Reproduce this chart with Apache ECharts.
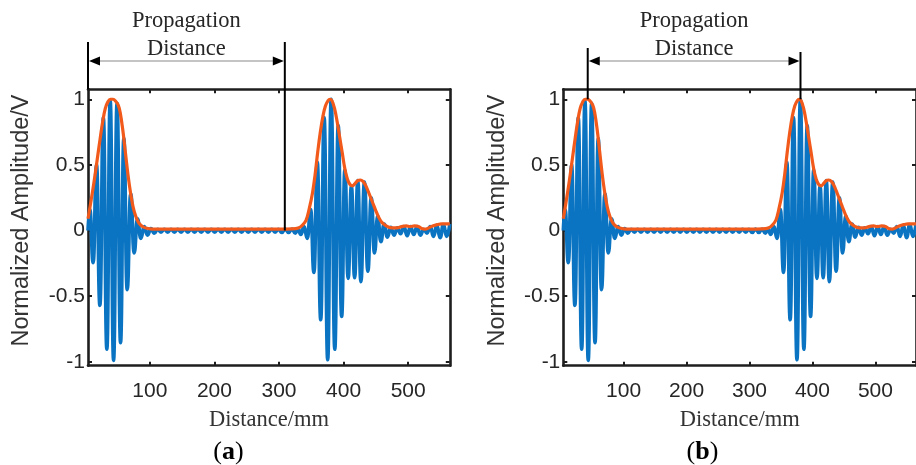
<!DOCTYPE html>
<html><head><meta charset="utf-8">
<script src="https://cdn.jsdelivr.net/npm/echarts@6/dist/echarts.min.js"></script>
<style>html,body{margin:0;padding:0;background:#fff}#c{width:916px;height:465px}</style>
</head><body><div id="c"></div>
<script>
// ---- data ----
// blue signal: positions (mm) of successive crests/troughs and their amplitudes
const distX = [4.2, 7, 12.2, 17.4, 22.6, 28.0, 33.4, 38.6, 43.8, 49.2, 54.6, 59.7, 64.9, 70.3, 75.7, 80.8, 86.0, 91.2, 96.4, 101.6, 106.8,
  112.0, 117.2, 122.4, 127.6, 132.8, 138.0, 143.2, 148.4, 153.6, 158.8, 164.0, 169.2, 174.4, 179.6, 184.8, 190.0, 195.2, 200.4, 205.6, 210.8,
  216.0, 221.2, 226.4, 231.6, 236.8, 242.0, 247.2, 252.4, 257.6, 262.8, 268.0, 273.2, 278.4, 283.6, 288.8, 294.0, 299.2,
  304.4, 309.6, 314.8, 320.0, 325.2, 329.5, 333.8,
  338.8, 343.8, 349.0, 354.1, 359.3, 364.6, 369.9, 375.4, 380.8, 386.4, 391.7, 397.0, 402.0, 407.1, 412.1, 417.1, 422.0, 426.8, 432.3, 437.6,
  442.8, 447.9, 452.8, 457.7, 462.8, 467.9, 473.0, 478.1, 483.2, 488.3, 493.4, 498.5, 503.6, 508.7, 513.8, 518.9, 524.0, 529.1, 534.2, 539.3,
  544.4, 549.5, 554.6, 559.7, 564.5];
const amp = [0.0, 0.16, -0.245, 0.50, -0.57, 0.86, -0.905, 0.99, -0.99, 0.97, -0.855, 0.70, -0.45, 0.28, -0.17, 0.09, -0.06, 0.03, -0.035, 0.015, -0.02,
  0.01, -0.012, 0.01, -0.012, 0.01, -0.012, 0.01, -0.012, 0.01, -0.012, 0.01, -0.012, 0.01, -0.012, 0.01, -0.012, 0.01, -0.012, 0.01, -0.012,
  0.01, -0.012, 0.01, -0.012, 0.01, -0.012, 0.01, -0.012, 0.01, -0.012, 0.01, -0.012, 0.01, -0.012, 0.01, -0.012, 0.01,
  -0.015, 0.012, -0.015, 0.012, -0.02, 0.015, -0.03,
  0.03, -0.06, 0.16, -0.32, 0.52, -0.68, 0.86, -0.985, 1.0, -0.905, 0.80, -0.655, 0.46, -0.365, 0.34, -0.36, 0.38, -0.39, 0.37, -0.31,
  0.25, -0.17, 0.11, -0.085, 0.05, -0.05, 0.025, -0.035, 0.02, -0.025, 0.03, -0.04, 0.03, -0.03, 0.03, -0.035, 0.01, -0.02, 0.03, -0.045,
  0.04, -0.055, 0.045, -0.045, 0.05];
// orange envelope
const envX = [4.2, 7, 11, 15, 19, 23, 27, 31, 35, 39, 43, 47, 51, 54, 58, 62, 66, 70, 74, 78, 82, 86, 92, 100, 110, 150, 200, 250, 300,
  320, 330, 336, 342, 347, 352, 356, 360, 364, 368, 372, 376, 379, 382, 386, 390, 394, 398, 402, 406, 410, 414, 418, 422, 426, 430, 434,
  438, 442, 446, 450, 454, 458, 462, 468, 475, 482, 490, 497, 503, 510, 516, 521, 526, 532, 538, 545, 552, 558, 564.5];
const envY = [0.09, 0.17, 0.29, 0.42, 0.56, 0.70, 0.83, 0.93, 0.98, 1.0, 1.0, 0.985, 0.955, 0.90, 0.77, 0.60, 0.43, 0.29, 0.18, 0.11, 0.065, 0.04, 0.022, 0.013, 0.01, 0.01, 0.01, 0.01, 0.01,
  0.012, 0.02, 0.04, 0.08, 0.17, 0.29, 0.43, 0.60, 0.75, 0.87, 0.95, 0.99, 1.0, 0.99, 0.93, 0.83, 0.71, 0.59, 0.47, 0.39, 0.35, 0.34, 0.36, 0.38, 0.385, 0.375, 0.345,
  0.30, 0.25, 0.20, 0.15, 0.105, 0.07, 0.05, 0.03, 0.02, 0.02, 0.03, 0.035, 0.03, 0.035, 0.03, 0.015, 0.01, 0.02, 0.035, 0.045, 0.05, 0.05, 0.05];
const xTicks = [100, 200, 300, 400, 500];
const yTicks = [-1, -0.5, 0, 0.5, 1];
const xRange = [4.2, 564.5];
const yRange = [-1.03, 1.076];
// propagation-distance markers (mm) and the amplitude where each marker line ends
const propAX = [4.2, 309];
const propAEnd = [1.076, 0];
const propBX = [43, 381];
const propBEnd = [1, 1];
const xName = 'Distance/mm';
const yName = 'Normalized Amplitude/V';
const captions = ['a', 'b'];

// ---- chart ----
const chart = echarts.init(document.getElementById('c'), null, {renderer: 'canvas'});
const frame = {show: true, onZero: false, lineStyle: {color: '#1e1e1e', width: 2.6}};
const tick = (show) => ({show: show, inside: true, length: 4, customValues: xTicks, lineStyle: {color: '#1e1e1e', width: 2}});
const ytick = {show: true, inside: true, length: 4, customValues: yTicks, lineStyle: {color: '#1e1e1e', width: 2}};
const sans = 'Liberation Sans, Arial, sans-serif';
const serif = 'Liberation Serif, Times New Roman, serif';
const grids = [{left: 88, top: 89.3, width: 361.8, height: 276.4}, {left: 563.3, top: 89.3, width: 361.8, height: 276.4}];
const xAxes = [], yAxes = [], series = [];
grids.forEach((g, i) => {
  xAxes.push({gridIndex: i, type: 'value', position: 'bottom', min: xRange[0], max: xRange[1],
    axisLine: frame, axisTick: tick(true), splitLine: {show: false},
    axisLabel: {show: true, customValues: xTicks, margin: 15, fontFamily: sans, fontSize: 21, color: '#262626'},
    name: xName, nameLocation: 'middle', nameGap: 54,
    nameTextStyle: {fontFamily: serif, fontSize: 22.5, color: '#333', verticalAlign: 'middle'}});
  xAxes.push({gridIndex: i, type: 'value', position: 'top', min: xRange[0], max: xRange[1],
    axisLine: frame, axisTick: tick(true), axisLabel: {show: false}, splitLine: {show: false}});
  yAxes.push({gridIndex: i, type: 'value', position: 'left', min: yRange[0], max: yRange[1],
    axisLine: frame, axisTick: ytick, splitLine: {show: false},
    axisLabel: {show: true, customValues: yTicks, margin: 3, fontFamily: sans, fontSize: 21, color: '#262626'},
    name: yName, nameLocation: 'middle', nameGap: 66, nameRotate: 90,
    nameTextStyle: {fontFamily: sans, fontSize: 23.5, color: '#333', verticalAlign: 'middle', padding: [0, 0, 0, 14]}});
  yAxes.push({gridIndex: i, type: 'value', position: 'right', min: yRange[0], max: yRange[1],
    axisLine: frame, axisTick: ytick, axisLabel: {show: false}, splitLine: {show: false}});
  series.push({type: 'line', xAxisIndex: 2 * i, yAxisIndex: 2 * i, data: distX.map((x, k) => [x, amp[k]]),
    showSymbol: false, smooth: 0.5, smoothMonotone: 'x', clip: true, z: 2,
    lineStyle: {color: '#0a74c2', width: 3.6, join: 'round'}});
  series.push({type: 'line', xAxisIndex: 2 * i, yAxisIndex: 2 * i, data: envX.map((x, k) => [x, envY[k]]),
    showSymbol: false, smooth: 0.4, clip: true, z: 3,
    lineStyle: {color: '#f25a1c', width: 3.2, join: 'round'}});
});
chart.setOption({animation: false, backgroundColor: '#fff', grid: grids, xAxis: xAxes, yAxis: yAxes, series: series});

// ---- annotations positioned through the axes ----
const graphic = [];
function annotate(gi, xs, ends, tops) {
  const f = {xAxisIndex: 2 * gi, yAxisIndex: 2 * gi};
  const p0 = chart.convertToPixel(f, [xs[0], ends[0]]);
  const p1 = chart.convertToPixel(f, [xs[1], ends[1]]);
  const ay = 61;
  graphic.push({type: 'line', shape: {x1: p0[0], y1: tops[0], x2: p0[0], y2: p0[1]}, style: {stroke: '#000', lineWidth: 2}, z: 10});
  graphic.push({type: 'line', shape: {x1: p1[0], y1: tops[1], x2: p1[0], y2: p1[1]}, style: {stroke: '#000', lineWidth: 2}, z: 10});
  graphic.push({type: 'line', shape: {x1: p0[0] + 10, y1: ay, x2: p1[0] - 10, y2: ay}, style: {stroke: '#8a8a8a', lineWidth: 1.2}, z: 10});
  graphic.push({type: 'polygon', shape: {points: [[p0[0] + 1, ay], [p0[0] + 12, ay - 4.5], [p0[0] + 12, ay + 4.5]]}, style: {fill: '#000'}, z: 10});
  graphic.push({type: 'polygon', shape: {points: [[p1[0] - 1, ay], [p1[0] - 12, ay - 4.5], [p1[0] - 12, ay + 4.5]]}, style: {fill: '#000'}, z: 10});
  const cx = (p0[0] + p1[0]) / 2;
  graphic.push({type: 'text', x: cx, y: 21.5, style: {text: 'Propagation', font: '22.5px ' + serif, fill: '#262626', align: 'center', verticalAlign: 'middle'}, z: 10});
  graphic.push({type: 'text', x: cx, y: 49.2, style: {text: 'Distance', font: '22.5px ' + serif, fill: '#262626', align: 'center', verticalAlign: 'middle'}, z: 10});
}
annotate(0, propAX, propAEnd, [42, 42]);
annotate(1, propBX, propBEnd, [48, 52]);
const capX = [228.5, 702.5];
captions.forEach((c, i) => {
  graphic.push({type: 'text', x: capX[i], y: 452, style: {
    text: '{n|(}{b|' + c + '}{n|)}', align: 'center', verticalAlign: 'middle',
    rich: {n: {fontFamily: serif, fontSize: 26, fill: '#000'}, b: {fontFamily: serif, fontSize: 26, fontWeight: 'bold', fill: '#000'}}}, z: 10});
});
chart.setOption({graphic: graphic});
</script></body></html>
